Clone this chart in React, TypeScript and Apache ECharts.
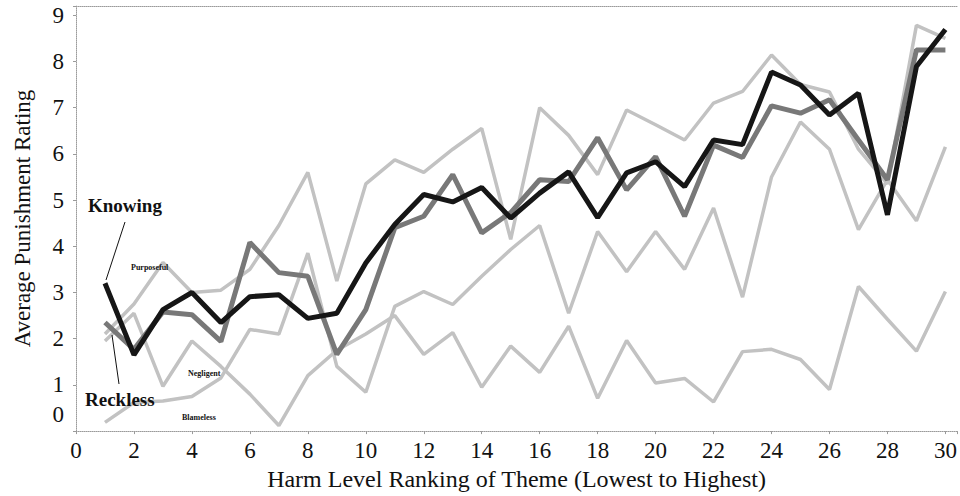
import React, { useEffect, useRef } from "react";
import * as echarts from "echarts";

const ranks = [1, 2, 3, 4, 5, 6, 7, 8, 9, 10, 11, 12, 13, 14, 15, 16, 17, 18, 19, 20, 21, 22, 23, 24, 25, 26, 27, 28, 29, 30];
const knowing = [3.2, 1.65, 2.63, 3.0, 2.35, 2.91, 2.95, 2.44, 2.55, 3.64, 4.47, 5.12, 4.96, 5.27, 4.61, 5.15, 5.61, 4.62, 5.59, 5.83, 5.29, 6.3, 6.2, 7.77, 7.49, 6.84, 7.31, 4.68, 7.89, 8.69];
const reckless = [2.35, 1.77, 2.58, 2.52, 1.94, 4.08, 3.43, 3.35, 1.66, 2.63, 4.4, 4.65, 5.55, 4.29, 4.73, 5.44, 5.4, 6.35, 5.22, 5.94, 4.65, 6.19, 5.92, 7.04, 6.88, 7.17, 6.3, 5.44, 8.25, 8.25];
const purposeful = [2.1, 2.75, 3.65, 3.0, 3.05, 3.5, 4.45, 5.6, 3.25, 5.35, 5.87, 5.6, 6.1, 6.55, 4.15, 7.0, 6.4, 5.55, 6.95, 6.63, 6.3, 7.1, 7.35, 8.14, 7.5, 7.34, 6.1, 5.35, 8.78, 8.5];
const negligent = [1.95, 2.55, 0.97, 1.95, 1.4, 0.8, 0.12, 1.2, 1.75, 2.1, 2.5, 1.66, 2.13, 0.95, 1.84, 1.27, 2.27, 0.71, 1.96, 1.04, 1.14, 0.63, 1.72, 1.77, 1.55, 0.9, 3.13, 2.42, 1.73, 3.02];
const blameless = [0.19, 0.62, 0.65, 0.75, 1.15, 2.2, 2.1, 3.85, 1.4, 0.84, 2.7, 3.02, 2.74, 3.35, 3.93, 4.45, 2.55, 4.32, 3.45, 4.32, 3.5, 4.83, 2.9, 5.5, 6.69, 6.1, 4.36, 5.44, 4.55, 6.15];

const xTitle = "Harm Level Ranking of Theme (Lowest to Highest)";
const yTitle = "Average Punishment Rating";

const SERIF = '"Liberation Serif", "DejaVu Serif", serif';

const pairs = (vals: number[]) => ranks.map((r, i) => [r, vals[i]]);

export default function App() {
  const ref = useRef<HTMLDivElement>(null);
  useEffect(() => {
    if (!ref.current) return;
    const chart = echarts.init(ref.current, null, { renderer: "svg" });
    const light = (name: string, vals: number[]) => ({
      name,
      type: "line",
      data: pairs(vals),
      symbol: "none",
      lineStyle: { color: "#c2c2c2", width: 3.5 },
      z: 2,
    });
    const axisLine = { show: true, lineStyle: { color: "#9a9a9a", width: 1, type: "dotted" } };
    chart.setOption({
      animation: false,
      backgroundColor: "#ffffff",
      grid: { left: 76, right: 2, top: 6, bottom: 64 },
      xAxis: [
        {
          type: "value",
          min: 0,
          max: 30.4,
          interval: 2,
          axisLine,
          axisTick: { show: true, length: 3, lineStyle: { color: "#9a9a9a" } },
          splitLine: { show: false },
          axisLabel: {
            color: "#111",
            fontFamily: SERIF,
            fontSize: 23,
            margin: 8,
            formatter: (v: number) => (Number.isInteger(v) && v <= 30 ? String(v) : ""),
          },
          name: xTitle,
          nameLocation: "middle",
          nameGap: 35,
          nameTextStyle: { color: "#111", fontFamily: SERIF, fontSize: 24 },
        },
        {
          type: "value",
          position: "top",
          min: 0,
          max: 30.4,
          axisLine,
          axisTick: { show: false },
          axisLabel: { show: false },
          splitLine: { show: false },
        },
      ],
      yAxis: {
        type: "value",
        min: 0,
        max: 9.2,
        interval: 1,
        axisLine,
        axisTick: { show: true, length: 3, lineStyle: { color: "#9a9a9a" } },
        splitLine: { show: false },
        axisLabel: {
          color: "#111",
          fontFamily: SERIF,
          fontSize: 23,
          margin: 12,
          formatter: (v: number) => (v === 0 ? "{z|0}" : Number.isInteger(v) ? String(v) : ""),
          rich: { z: { fontFamily: SERIF, fontSize: 23, color: "#111", padding: [0, 0, 34, 0] } },
        },
        name: yTitle,
        nameLocation: "middle",
        nameGap: 42,
        nameRotate: 90,
        nameTextStyle: { color: "#111", fontFamily: SERIF, fontSize: 23 },
      },
      series: [
        light("Purposeful", purposeful),
        light("Negligent", negligent),
        light("Blameless", blameless),
        {
          name: "Reckless",
          type: "line",
          data: pairs(reckless),
          symbol: "none",
          lineStyle: { color: "#787878", width: 5 },
          z: 3,
        },
        {
          name: "Knowing",
          type: "line",
          data: pairs(knowing),
          symbol: "none",
          lineStyle: { color: "#161616", width: 5 },
          z: 4,
        },
      ],
      graphic: [
        { type: "text", x: 88, y: 205, z: 10, style: { text: "Knowing", font: `bold 19px ${SERIF}`, fill: "#111", verticalAlign: "middle" } },
        { type: "text", x: 85, y: 399, z: 10, style: { text: "Reckless", font: `bold 19px ${SERIF}`, fill: "#111", verticalAlign: "middle" } },
        { type: "text", x: 131, y: 267, z: 10, style: { text: "Purposeful", font: `bold 8px ${SERIF}`, fill: "#111", verticalAlign: "middle" } },
        { type: "text", x: 188, y: 373, z: 10, style: { text: "Negligent", font: `bold 8px ${SERIF}`, fill: "#111", verticalAlign: "middle" } },
        { type: "text", x: 182, y: 417, z: 10, style: { text: "Blameless", font: `bold 8px ${SERIF}`, fill: "#111", verticalAlign: "middle" } },
        { type: "line", z: 10, shape: { x1: 125, y1: 222, x2: 106, y2: 280 }, style: { stroke: "#111", lineWidth: 1 } },
        { type: "line", z: 10, shape: { x1: 112, y1: 335, x2: 119, y2: 384 }, style: { stroke: "#111", lineWidth: 1 } },
      ],
    });
    return () => chart.dispose();
  }, []);
  return <div ref={ref} style={{ position: "absolute", left: 0, top: 0, width: 960, height: 496 }} />;
}
